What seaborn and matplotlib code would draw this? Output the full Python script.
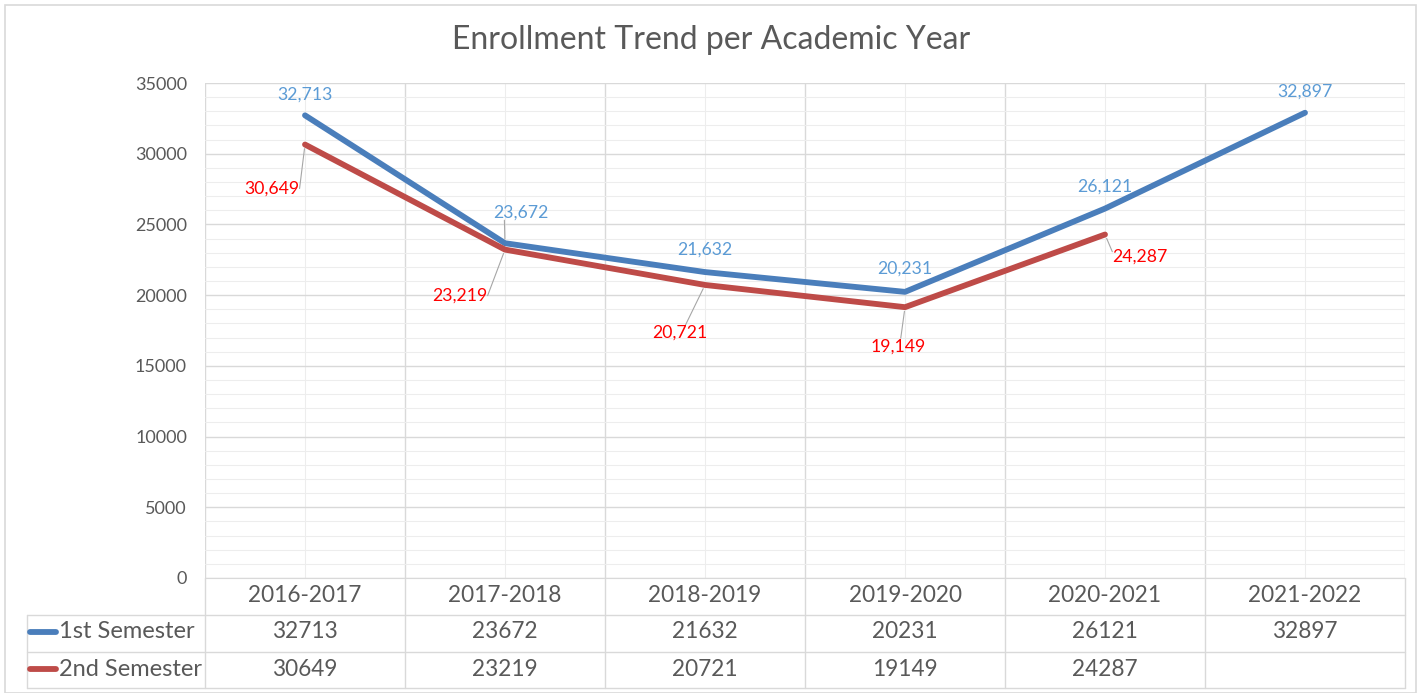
import numpy as np
import pandas as pd
import matplotlib
matplotlib.use('Agg')
import matplotlib.pyplot as plt
from matplotlib.lines import Line2D
from matplotlib.patches import Rectangle
from matplotlib.ticker import MultipleLocator
import seaborn as sns

# chart data
years = ['2016-2017', '2017-2018', '2018-2019', '2019-2020', '2020-2021', '2021-2022']
first_sem = [32713, 23672, 21632, 20231, 26121, 32897]
second_sem = [30649, 23219, 20721, 19149, 24287, np.nan]
series_names = ['1st Semester', '2nd Semester']

line_colors = {'1st Semester': '#4A7EBB', '2nd Semester': '#BE4B48'}
label_colors = {'1st Semester': '#5B9BD5', '2nd Semester': '#FF0000'}
text_gray = '#595959'
grid_major = '#D9D9D9'
grid_minor = '#EDEDED'

# data label offsets in pixels, and where a leader line leaves the label (None = no leader)
first_offsets = [(0, 21), (16, 31), (0, 22), (0, 23), (0, 22), (0, 21)]
first_relpos = [None, (0.2, 0.0), None, None, None, None]
second_offsets = [(-33, -44), (-45, -46), (-25, -48), (-7, -39), (35, -22)]
second_relpos = [(1.0, 0.5), (1.0, 0.5), (0.6, 1.0), (0.55, 1.0), (0.0, 0.8)]

df = pd.DataFrame({'Year': years, '1st Semester': first_sem, '2nd Semester': second_sem})
df['pos'] = range(len(years))
long_df = df.melt(id_vars=['Year', 'pos'], value_vars=series_names,
                  var_name='Semester', value_name='Enrollment').dropna()

sns.set_style('white')
plt.rcParams['font.family'] = ['Lato', 'DejaVu Sans']

W, H = 1422, 693
fig = plt.figure(figsize=(W / 100, H / 100), dpi=100)
ax = fig.add_axes([205 / W, 1 - 578 / H, 1200 / W, 495 / H])

sns.lineplot(data=long_df, x='pos', y='Enrollment', hue='Semester',
             palette=line_colors, linewidth=4.2, legend=False, sort=False,
             ax=ax, solid_capstyle='round', zorder=3)

ax.set_xlim(-0.5, len(years) - 0.5)
ax.set_ylim(0, 35000)
ax.yaxis.set_major_locator(MultipleLocator(5000))
ax.yaxis.set_minor_locator(MultipleLocator(1000))
ax.set_xticks(np.arange(-0.5, len(years)))
ax.set_xticks(np.arange(len(years)), minor=True)
ax.grid(which='major', color=grid_major, linewidth=1)
ax.grid(which='minor', color=grid_minor, linewidth=0.8)
ax.set_axisbelow(True)
ax.tick_params(axis='x', which='both', length=0, labelbottom=False)
ax.tick_params(axis='y', which='both', length=0, labelsize=13, labelcolor=text_gray, pad=13)
ax.set_xlabel('')
ax.set_ylabel('')
for s in ['top', 'right', 'left']:
    ax.spines[s].set_visible(False)
ax.spines['bottom'].set_color(grid_major)

fig.text(0.5, 1 - 40 / H, 'Enrollment Trend per Academic Year', ha='center', va='center',
         fontsize=23, color=text_gray)


# data labels
def add_labels(values, offsets, relpos, color):
    for i, v in enumerate(values):
        if np.isnan(v):
            continue
        ap = None
        if relpos[i] is not None:
            ap = dict(arrowstyle='-', color='#A6A6A6', lw=0.8, shrinkA=0, shrinkB=3,
                      relpos=relpos[i], patchA=None)
        ax.annotate(f'{int(v):,}', xy=(i, v), xytext=offsets[i], textcoords='offset pixels',
                    ha='center', va='center', fontsize=12.7, color=color,
                    arrowprops=ap, zorder=4)


add_labels(first_sem, first_offsets, first_relpos, label_colors['1st Semester'])
add_labels(second_sem, second_offsets, second_relpos, label_colors['2nd Semester'])

# data table under the axis
tr = ax.get_xaxis_transform()
row_y = [-17 / 495, -54 / 495, -91 / 495]
line_y = [0, -37 / 495, -74 / 495, -110 / 495]
hdr_left = (27 - 205) / 1200

for i, yr in enumerate(years):
    ax.text(i, row_y[0], yr, transform=tr, ha='center', va='center', fontsize=16.3,
            color=text_gray, clip_on=False)
for row, vals in zip(row_y[1:], [first_sem, second_sem]):
    for i, v in enumerate(vals):
        if not np.isnan(v):
            ax.text(i, row, f'{int(v)}', transform=tr, ha='center', va='center',
                    fontsize=16.3, color=text_gray, clip_on=False)

for b in np.arange(-0.5, len(years)):
    ax.add_line(Line2D([b, b], [0, line_y[-1]], transform=tr, color=grid_major,
                       lw=1, clip_on=False))
for ly in line_y[1:]:
    ax.add_line(Line2D([hdr_left, 1], [ly, ly], transform=ax.transAxes, color=grid_major,
                       lw=1, clip_on=False))
ax.add_line(Line2D([hdr_left, hdr_left], [line_y[1], line_y[-1]], transform=ax.transAxes,
                   color=grid_major, lw=1, clip_on=False))

# legend keys in the row headers
for row, name in zip(row_y[1:], series_names):
    ax.add_line(Line2D([(30 - 205) / 1200, (56 - 205) / 1200], [row, row],
                       transform=ax.transAxes, color=line_colors[name], lw=4.2,
                       solid_capstyle='round', clip_on=False))
    ax.text((59 - 205) / 1200, row, name, transform=ax.transAxes, ha='left', va='center',
            fontsize=17, color=text_gray, clip_on=False)

# chart border
fig.add_artist(Rectangle((5 / W, 0), 1411 / W, 1 - 5 / H, transform=fig.transFigure,
                         fill=False, edgecolor='#D9D9D9', lw=1.2))

fig.savefig('out.png', dpi=100)
